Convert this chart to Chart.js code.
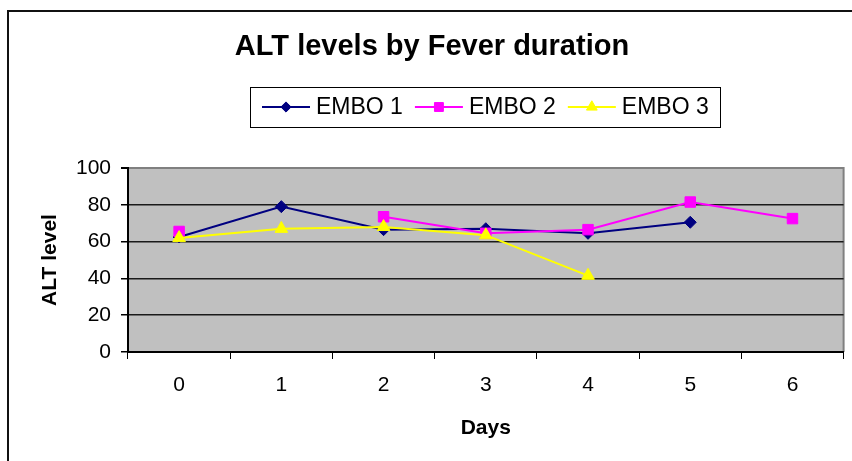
<!DOCTYPE html>
<html><head><meta charset="utf-8">
<style>html,body{margin:0;padding:0;background:#fff;} canvas{display:block;}</style>
<script src="https://cdn.jsdelivr.net/npm/chart.js@4.4.1/dist/chart.umd.min.js"></script>
</head><body><canvas id="c" width="852" height="461"></canvas>
<script>
const chartTitle = 'ALT levels by Fever duration';
const days = ['0', '1', '2', '3', '4', '5', '6'];
const seriesNames = ['EMBO 1', 'EMBO 2', 'EMBO 3'];
const embo1 = [62.5, 79, 66.5, 67, 64.5, 70.5, null];
const embo2 = [65.5, null, 73.5, 64.5, 66.5, 81.5, 72.5];
const embo3 = [62, 67, 68, 63.5, 41.5, null, null];
const yTickValues = [0, 20, 40, 60, 80, 100];
const xTitle = 'Days';
const yTitle = 'ALT level';

const FONT = '"Liberation Sans", Arial, sans-serif';
const colors = ['#000080', '#FF00FF', '#FFFF00'];
const styles = ['rectRot', 'rect', 'triangle'];
const radii = [6, 7.4, 7.3];

const decor = {
  id: 'decor',
  beforeDraw(chart) {
    const {ctx, chartArea: a} = chart;
    ctx.save();
    ctx.fillStyle = '#fff';
    ctx.fillRect(0, 0, chart.width, chart.height);
    ctx.strokeStyle = '#111';
    ctx.lineWidth = 2;
    ctx.strokeRect(8, 11, chart.width + 20, chart.height + 20);
    ctx.fillStyle = '#C0C0C0';
    ctx.fillRect(a.left, a.top, a.right - a.left, a.bottom - a.top);
    ctx.strokeStyle = '#808080';
    ctx.lineWidth = 2;
    ctx.beginPath();
    ctx.moveTo(a.left, a.top);
    ctx.lineTo(a.right, a.top);
    ctx.lineTo(a.right, a.bottom);
    ctx.stroke();
    ctx.restore();
  },
  afterDraw(chart) {
    const ctx = chart.ctx;
    ctx.save();
    // title
    ctx.fillStyle = '#000';
    ctx.font = 'bold 29px ' + FONT;
    ctx.textAlign = 'center';
    ctx.textBaseline = 'middle';
    ctx.fillText(chartTitle, 432, 47);
    // legend
    const bx = 250, by = 87, bw = 470, bh = 40;
    ctx.fillStyle = '#fff';
    ctx.fillRect(bx, by, bw, bh);
    ctx.strokeStyle = '#000';
    ctx.lineWidth = 1;
    ctx.strokeRect(bx + 0.5, by + 0.5, bw, bh);
    ctx.font = '23px ' + FONT;
    ctx.textAlign = 'left';
    let x = 262;
    const cy = by + bh / 2;
    chart.data.datasets.forEach((ds, i) => {
      ctx.strokeStyle = ds.borderColor;
      ctx.lineWidth = 2;
      ctx.beginPath();
      ctx.moveTo(x, cy);
      ctx.lineTo(x + 48, cy);
      ctx.stroke();
      ctx.fillStyle = ds.pointBackgroundColor;
      ctx.strokeStyle = ds.pointBorderColor;
      ctx.lineWidth = 1;
      ctx.beginPath();
      const r = ds.pointRadius * 0.85;
      if (ds.pointStyle === 'rectRot') {
        ctx.moveTo(x + 24, cy - r); ctx.lineTo(x + 24 + r, cy); ctx.lineTo(x + 24, cy + r); ctx.lineTo(x + 24 - r, cy); ctx.closePath();
      } else if (ds.pointStyle === 'rect') {
        const s = r * Math.SQRT1_2; ctx.rect(x + 24 - s, cy - s, 2 * s, 2 * s);
      } else {
        ctx.moveTo(x + 24, cy - r); ctx.lineTo(x + 24 + r * 0.866, cy + r / 2); ctx.lineTo(x + 24 - r * 0.866, cy + r / 2); ctx.closePath();
      }
      ctx.fill(); ctx.stroke();
      ctx.fillStyle = '#000';
      ctx.fillText(ds.label, x + 54, cy + 1);
      x += 54 + ctx.measureText(ds.label).width + 12;
    });
    ctx.restore();
  }
};

const mk = (i, data) => ({
  label: seriesNames[i],
  data: data,
  borderColor: colors[i],
  backgroundColor: colors[i],
  pointBackgroundColor: colors[i],
  pointBorderColor: colors[i],
  pointStyle: styles[i],
  pointRadius: radii[i],
  pointBorderWidth: 1,
  borderWidth: 2,
  tension: 0,
  spanGaps: false,
  order: 3 - i
});

new Chart(document.getElementById('c'), {
  type: 'line',
  data: {
    labels: days,
    datasets: [mk(0, embo1), mk(1, embo2), mk(2, embo3)]
  },
  plugins: [decor],
  options: {
    responsive: false,
    animation: false,
    events: [],
    layout: {padding: {left: 0, top: 168, right: 5, bottom: 0}},
    plugins: {legend: {display: false}, title: {display: false}, tooltip: {enabled: false}},
    scales: {
      x: {
        offset: true,
        afterFit(s) { s.height = 109; },
        grid: {drawOnChartArea: false, drawTicks: true, tickLength: 7, tickColor: '#000', offset: true},
        border: {display: true, color: '#000', width: 2},
        ticks: {color: '#000', font: {family: FONT, size: 21}, padding: 14, maxRotation: 0},
        title: {display: true, text: xTitle, color: '#000', font: {family: FONT, size: 21, weight: 'bold'}, padding: {top: 0, bottom: 20}}
      },
      y: {
        min: 0, max: 100,
        afterFit(s) { s.width = 128; },
        afterBuildTicks(s) { s.ticks = yTickValues.map(v => ({value: v})); },
        grid: {
          color: c => (c.tick && c.tick.value === 100) ? '#808080' : '#1a1a1a',
          lineWidth: c => (c.tick && c.tick.value === 100) ? 2 : 1.5,
          tickColor: '#000', tickLength: 7, drawTicks: true
        },
        border: {display: true, color: '#000', width: 2},
        ticks: {color: '#000', font: {family: FONT, size: 21}, padding: 10},
        title: {display: true, text: yTitle, color: '#000', font: {family: FONT, size: 21, weight: 'bold'}, padding: {top: 38, bottom: 0}}
      }
    }
  }
});
</script>
</body></html>
